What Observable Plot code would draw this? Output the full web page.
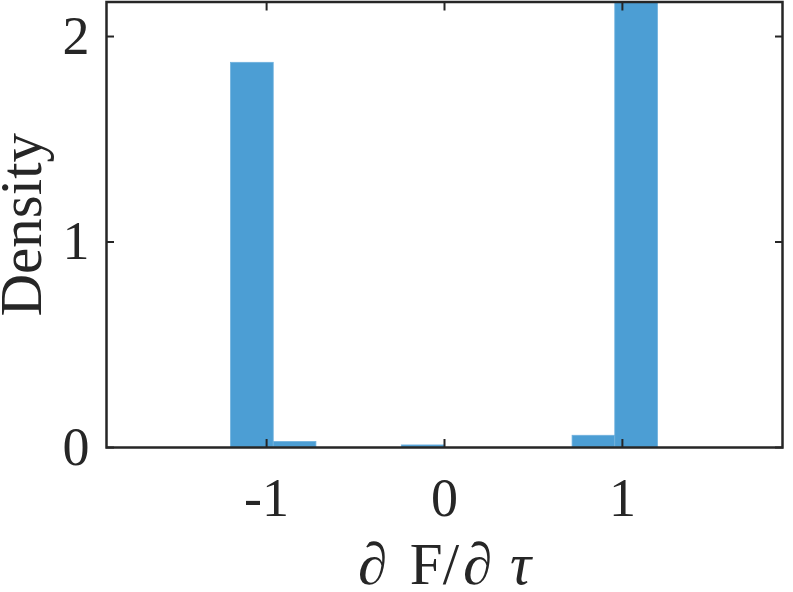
<!DOCTYPE html>
<html>
<head>
<meta charset="utf-8">
<script src="https://cdn.jsdelivr.net/npm/d3@7"></script>
<script src="https://cdn.jsdelivr.net/npm/@observablehq/plot@0.6"></script>
<style>
  html, body { margin: 0; padding: 0; background: #fff; }
  #chart svg { display: block; }
</style>
</head>
<body>
<div id="chart"></div>
<script>
// Histogram bins (lower edges), bin width, and density values
const binLower = [-1.2, -0.96, -0.72, -0.48, -0.24, 0, 0.24, 0.48, 0.72, 0.96];
const binWidth = 0.24;
const density = [1.872, 0.027, 0, 0, 0.01, 0, 0, 0, 0.057, 2.17];
const xTicks = [-1, 0, 1];
const yTicks = [0, 1, 2];
const xLabel = "∂ F/∂ τ";
const yLabel = "Density";

const bins = binLower.map((lo, i) => ({x1: lo, x2: lo + binWidth, y: density[i]}));

const ink = "#262626";
const font = "Liberation Serif";

const chart = Plot.plot({
  width: 793,
  height: 592,
  marginLeft: 106,
  marginRight: 11,
  marginTop: 1.5,
  marginBottom: 145,
  style: {fontFamily: font, color: ink, background: "#fff"},
  x: {domain: [-1.9, 1.9]},
  y: {domain: [0, 2.168]},
  marks: [
    Plot.rectY(bins, {x1: "x1", x2: "x2", y: "y", fill: "#4C9ED4", stroke: "#6FB1DE", strokeWidth: 0.8, clip: true}),
    // tick labels
    Plot.axisX({ticks: xTicks, tickSize: 0, tickPadding: 30, fontSize: 54, fontFamily: font, tickFormat: d => d, label: null, fill: ink}),
    Plot.axisY({ticks: yTicks, tickSize: 0, tickPadding: 17, fontSize: 54, fontFamily: font, tickFormat: d => d, label: null, fill: ink}),
    // inward ticks on all four sides
    Plot.axisX({ticks: xTicks, anchor: "bottom", tickSize: -8, tickFormat: () => "", label: null, stroke: ink, strokeWidth: 2}),
    Plot.axisX({ticks: xTicks, anchor: "top", tickSize: -8, tickFormat: () => "", label: null, stroke: ink, strokeWidth: 2}),
    Plot.axisY({ticks: yTicks, anchor: "left", tickSize: -8, tickFormat: () => "", label: null, stroke: ink, strokeWidth: 2}),
    Plot.axisY({ticks: yTicks, anchor: "right", tickSize: -8, tickFormat: () => "", label: null, stroke: ink, strokeWidth: 2}),
    Plot.frame({stroke: ink, strokeWidth: 2.5}),
    // axis titles
    Plot.text([xLabel], {text: d => d, frameAnchor: "bottom", textAnchor: "middle", lineAnchor: "bottom", dy: 136, fontSize: 59, fontFamily: font, fill: ink}),
    Plot.text([yLabel], {text: d => d, frameAnchor: "left", textAnchor: "middle", rotate: -90, lineAnchor: "bottom", dx: -66, fontSize: 59, fontFamily: font, fill: ink})
  ]
});

document.getElementById("chart").appendChild(chart);

// italicise the tau in the x label and widen its spacing a little
d3.select(chart).selectAll("text").each(function() {
  if (this.textContent === xLabel) {
    const t = d3.select(this);
    t.text(null);
    t.append("tspan").text("∂");
    t.append("tspan").attr("dx", 8).text(" F/");
    t.append("tspan").attr("dx", 4).text("∂");
    t.append("tspan").attr("dx", 3).text(" ");
    t.append("tspan").attr("font-style", "italic").text("τ");
  }
});
</script>
</body>
</html>
